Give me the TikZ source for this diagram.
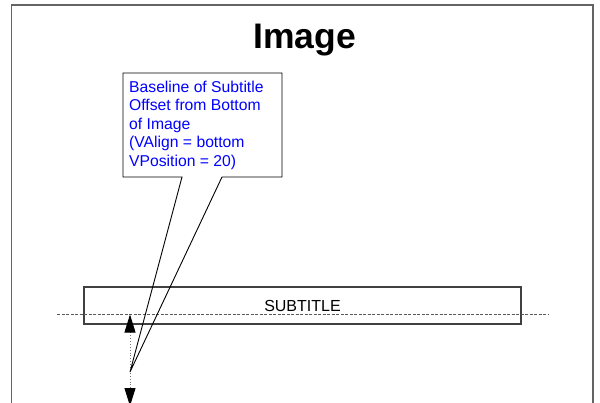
\documentclass[tikz,border=0pt]{standalone}
\usepackage{fontspec}
\setmainfont{Liberation Sans}
\usetikzlibrary{arrows.meta}
\definecolor{calloutblue}{RGB}{0,0,255}
\definecolor{framegrey}{RGB}{100,100,100}
\tikzset{
  frameline/.style={draw=framegrey, line width=1.4pt},
  boxline/.style={draw=black!75, line width=1.1pt},
  baseline dash/.style={draw=black!65, line width=0.9pt, dash pattern=on 3pt off 1.5pt},
  pointerline/.style={draw=black, line width=0.9pt},
  measure/.style={draw=black!55, line width=0.9pt, dotted,
    {Triangle[length=18pt,width=11pt,black]}-{Triangle[length=18pt,width=11pt,black]}},
  titletext/.style={font=\fontsize{35.5}{40}\selectfont\bfseries, inner sep=0pt},
  callouttext/.style={font=\fontsize{15.7}{18.5}\selectfont, text=calloutblue, align=left, inner sep=0pt, anchor=north west},
  subtitlebox/.style={boxline, minimum width=437pt, minimum height=37pt, inner sep=0pt,
    font=\fontsize{16}{18}\selectfont}
}
\begin{document}
\begin{tikzpicture}[x=1pt,y=-1pt]
\useasboundingbox (0,0) rectangle (600,402);
\clip (0,0) rectangle (600,402);
% image frame (open at the bottom)
\draw[frameline] (11.5,410) -- (11.5,5) -- (593,5) -- (593,410);
% title
\node[titletext, anchor=base] (title) at (304.5,48.3) {Image};
% subtitle box
\node[subtitlebox] (sub) at (302.5,305.5) {SUBTITLE};
% baseline
\coordinate (bl) at (57,314.5);
\coordinate (br) at (548,314.5);
\draw[baseline dash] (bl) -- (br);
% offset measurement
\coordinate (mtop) at (130,314.5);
\coordinate (mbot) at (130,406);
\draw[measure] (mbot) -- (mtop);
% callout
\coordinate (tip) at (130,372);
\draw[pointerline] (123,73) -- (282,73) -- (282,177) -- (222,177) -- (tip) -- (182,177) -- (123,177) -- cycle;
\node[callouttext] (note) at (129,80.5) {Baseline of Subtitle\\Offset from Bottom\\of Image\\(VAlign = bottom\\VPosition = 20)};
\end{tikzpicture}
\end{document}
